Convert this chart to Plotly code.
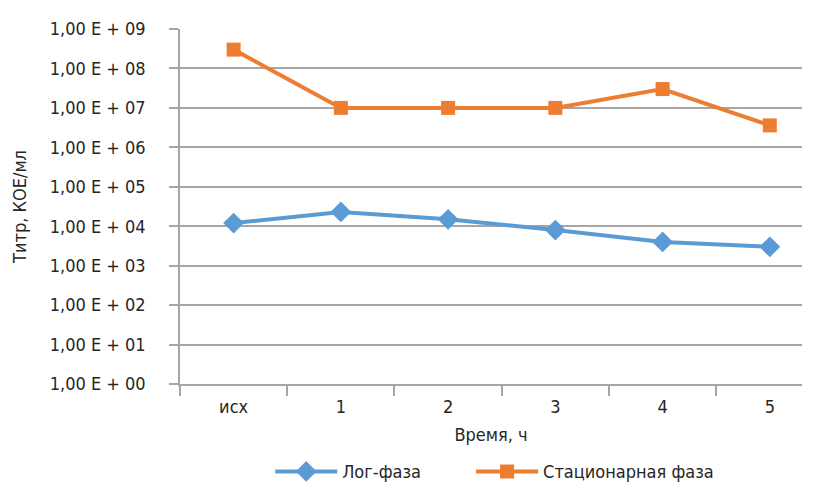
import plotly.graph_objects as go

# Sampling points (hours) and bacterial titres, CFU/ml
categories = ["исх", "1", "2", "3", "4", "5"]
log_phase = [1.2e4, 2.3e4, 1.5e4, 8.0e3, 4.0e3, 3.0e3]
stationary_phase = [3.0e8, 1.0e7, 1.0e7, 1.0e7, 3.0e7, 3.6e6]

# Y-axis decades and their labels
exponents = list(range(0, 10))
y_tickvals = [10 ** e for e in exponents]
y_ticktext = ["1,00 E + %02d" % e for e in exponents]

FONT = "Liberation Sans Narrow, DejaVu Sans Condensed, Arial Narrow, sans-serif"
GRID = "#A6A6A6"
BLUE = "#5B9BD5"
ORANGE = "#ED7D31"
TEXT = "#262626"

fig = go.Figure()
fig.add_trace(go.Scatter(
    x=categories, y=log_phase, name="Лог-фаза", mode="lines+markers",
    line=dict(color=BLUE, width=4),
    marker=dict(symbol="diamond", size=16, color=BLUE),
    legend="legend",
))
fig.add_trace(go.Scatter(
    x=categories, y=stationary_phase, name="Стационарная фаза", mode="lines+markers",
    line=dict(color=ORANGE, width=4),
    marker=dict(symbol="square", size=14, color=ORANGE),
    legend="legend2",
))

legend_style = dict(orientation="h", xanchor="left", y=-0.195, yanchor="top",
                    font=dict(size=18), itemwidth=62, bgcolor="rgba(0,0,0,0)")

fig.update_layout(
    width=820, height=487,
    margin=dict(l=180, r=18, t=29, b=103, autoexpand=False),
    paper_bgcolor="white", plot_bgcolor="white",
    font=dict(family=FONT, size=18, color=TEXT),
    showlegend=True,
    legend=dict(x=0.145, **legend_style),
    legend2=dict(x=0.468, **legend_style),
    xaxis=dict(
        type="category", range=[-0.5, 5.3], tickson="boundaries",
        showgrid=False, showline=True, linecolor=GRID, linewidth=1.5,
        ticks="outside", ticklen=10, tickcolor=GRID, tickwidth=1.5,
        ticklabelstandoff=6, automargin=False,
        title=dict(text="Время, ч", standoff=12, font=dict(size=18)),
        tickfont=dict(size=18),
    ),
    yaxis=dict(
        type="log", range=[0, 9],
        tickvals=y_tickvals, ticktext=y_ticktext,
        showgrid=True, gridcolor=GRID, gridwidth=1.5,
        showline=True, linecolor=GRID, linewidth=1.5,
        ticks="outside", ticklen=9, tickcolor=GRID, tickwidth=1.5,
        ticklabelstandoff=20, zeroline=False, automargin=False,
        title=dict(text="Титр, КОЕ/мл", standoff=18, font=dict(size=18)),
        tickfont=dict(size=18),
    ),
)

fig.write_html("out.html")
